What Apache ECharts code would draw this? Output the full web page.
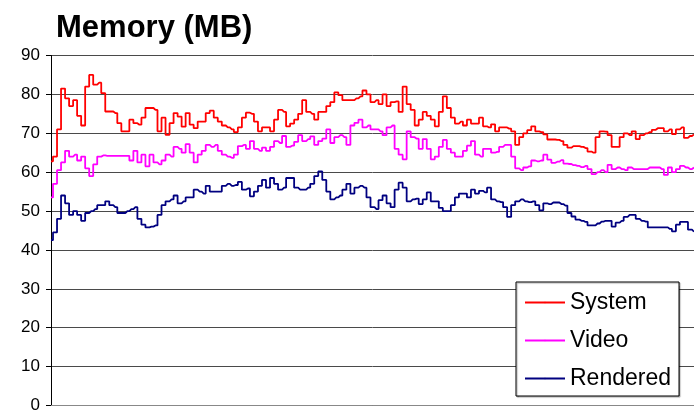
<!DOCTYPE html>
<html>
<head>
<meta charset="utf-8">
<script src="https://cdn.jsdelivr.net/npm/echarts@6/dist/echarts.min.js"></script>
<style>
    html, body { margin: 0; padding: 0; background: #fff; }
    #memChart { width: 694px; height: 414px; }
</style>
</head>
<body>
<div id="memChart"></div>
<script>
// 数据 (MB)
var system = [
    62.8, 64, 71, 81.5, 79, 77, 78.5, 74.5, 72, 82, 85, 82.5, 83, 80.3, 75.6, 75.6, 75.2, 72.6, 70.5, 70.5,
    73.5, 72.6, 72.2, 74, 76.5, 76.5, 76, 70.5, 74, 69.6, 72.6, 75.2, 74.3, 71.7, 75.2, 72.2, 71.3, 73, 73, 75.2,
    75.8, 74, 73, 72, 71.5, 71, 70.3, 71.5, 74, 75.3, 75, 73, 70.5, 71.5, 71.5, 70.5, 73.5, 76, 75.5, 71.8,
    72.5, 73.5, 75, 78.5, 75.5, 75, 73.5, 75.5, 75.5, 77, 78, 80.5, 79.8, 78.5, 78.5, 78.5, 79, 79.5, 81,
    80, 78, 78.5, 77.5, 80, 77, 78, 78.2, 75.5, 82, 77.5, 76, 72, 73.5, 75.5, 74.5, 73.5, 71.8, 75.5, 79.5,
    76.5, 74, 72.5, 73, 72, 73.5, 72.5, 72.5, 74, 71.8, 71.5, 72.3, 70.5, 71.5, 71.5, 71.2, 70.5, 67, 69,
    70, 70.8, 71.8, 70.5, 70.3, 69.7, 68.4, 68.4, 68.3, 68, 67, 66.3, 66.7, 66.7, 66.5, 66.2, 65.3, 65, 69, 70.5,
    70.4, 69.5, 66.5, 66.5, 69, 70, 69.5, 70.5, 68.5, 69.5, 70, 70.3, 70.9, 71.3, 71.3, 70.5, 71, 69.8, 71, 71.5,
    68.8, 69.3, 69.7
];
var video = [
    53.5, 57, 60.5, 62.5, 65.5, 64, 64.5, 63, 64, 61, 59, 62, 64, 64.3, 64.2, 64.2, 64.2, 64.2, 64.2, 64.2,
    63, 65.5, 62.5, 64.5, 61.5, 64.5, 62.5, 62, 63, 64.5, 64, 66.5, 66, 65, 67.2, 65, 62.5, 64.5, 65.5, 67,
    66.5, 67, 65.5, 64.5, 64, 63.7, 64.5, 66.7, 67, 66, 68, 66, 65.5, 66.3, 65.5, 66.5, 68, 67.5, 69.3, 66.5,
    66.8, 67.8, 69.5, 68, 68.5, 69.2, 67, 68, 68.6, 71, 67.5, 69, 69.5, 69, 67, 72, 72.7, 73.5, 71.5,
    72, 71, 71, 70.5, 69.5, 71.5, 72, 66, 64.5, 63.3, 70.5, 69, 68.6, 66, 68.5, 66, 63.3, 64, 66.5, 68.3,
    66, 65, 64, 64, 65.5, 66.8, 68, 64.5, 64, 66, 66, 65, 65.2, 66.5, 67, 67, 64, 61, 60.5,
    61.2, 61.5, 63, 62.8, 63, 64.5, 63.2, 62.4, 62.7, 63.1, 62.2, 62.1, 61.8, 61.6, 61.3, 61.6, 60.8, 59.5, 60, 60.5,
    60, 61.9, 60.8, 61.2, 60.8, 60.5, 61.2, 60.8, 60.8, 60.8, 60.8, 61.2, 61.2, 61.2, 60.8, 59.3, 61.2, 60, 60.8, 61.6,
    61.2, 60.8, 61.2
];
var rendered = [
    42.5, 44.5, 48, 54, 52, 49, 50, 49, 47.5, 49.5, 50, 50.5, 51.5, 51.5, 52.5, 51.5, 51, 49.5, 49.5, 50,
    50.5, 51, 48, 46.5, 45.8, 46, 46.3, 49, 51.5, 52.5, 53, 54, 52, 52.5, 53.5, 53.5, 55.5, 55, 54.5, 56.5,
    55, 55, 55, 56.5, 57, 56.5, 56.7, 57.5, 55.5, 55.8, 53.8, 55, 56.5, 58, 56, 58.5, 57, 55.5, 56, 58.5,
    58.5, 56, 55.5, 55.5, 56, 57, 59, 60.2, 58, 55, 53, 53.5, 54, 55.5, 57, 54.5, 56, 56.5, 56,
    53.5, 51, 50.5, 52.8, 54, 52, 51, 55.5, 57.3, 56, 52.5, 53, 53.2, 51.8, 53, 54.8, 52.5, 52.5, 50.8, 50,
    50, 51.5, 53.5, 54.5, 54.5, 53.5, 55.5, 54.5, 55.2, 54.8, 56, 53, 52.5, 52.3, 51, 48.5, 51.5, 52.5, 53,
    52.5, 52.3, 52.5, 51.5, 50.2, 52, 51.8, 52.2, 52.2, 51.8, 51.4, 49.5, 48.6, 47.8, 47.5, 47.2, 46.3, 46.3, 46.8, 47.3,
    47.5, 47.5, 46, 47, 47.5, 48.5, 49, 49, 48, 47.5, 47.3, 45.8, 45.8, 45.8, 45.8, 45.8, 45.4, 44.8, 46.5, 47.2,
    47.2, 45.2, 44.7
];
var seriesNames = ['System', 'Video', 'Rendered'];
var yTicks = [0, 10, 20, 30, 40, 50, 60, 70, 80, 90];

var samples = [];
for (var i = 0; i < system.length; i++) {
    samples.push(i + 1);
}

var font = '"Liberation Sans", Arial, sans-serif';

var option_mem = {
    animation: false,
    title: {
        text: 'Memory (MB)',
        left: 51,
        top: 8,
        textStyle: { fontFamily: font, fontSize: 31, fontWeight: 'bold', color: '#000' }
    },
    legend: {
        orient: 'vertical',
        left: 516,
        top: 282,
        padding: [9, 8, 6, 8],
        itemWidth: 40,
        itemHeight: 2,
        itemGap: 15,
        itemTextGap: 9,
        backgroundColor: '#fff',
        borderColor: '#000',
        borderWidth: 1,
        shadowColor: 'rgba(0,0,0,0.35)',
        shadowOffsetX: 1,
        shadowOffsetY: 1,
        shadowBlur: 1,
        textStyle: { fontFamily: font, fontSize: 23, color: '#000' },
        data: seriesNames
    },
    grid: {
        left: 51,
        right: 0,
        top: 55.5,
        bottom: 6
    },
    xAxis: [{
        type: 'category',
        boundaryGap: false,
        data: samples,
        axisLine: { show: true, lineStyle: { color: '#888', width: 1 } },
        axisTick: { show: false },
        axisLabel: { show: false },
        splitLine: { show: false }
    }],
    yAxis: [{
        type: 'value',
        min: yTicks[0],
        max: yTicks[yTicks.length - 1],
        interval: 10,
        axisLine: { show: true, lineStyle: { color: '#000', width: 1 } },
        axisTick: { show: true, length: 5, lineStyle: { color: '#000' } },
        axisLabel: { margin: 11, fontFamily: font, fontSize: 17, color: '#000' },
        splitLine: { show: true, lineStyle: { color: '#4a4a4a', width: 1 } }
    }],
    series: [{
        name: seriesNames[0],
        type: 'line',
        step: 'middle',
        symbol: 'none',
        color: '#ff0000',
        lineStyle: { width: 1.8 },
        data: system
    }, {
        name: seriesNames[1],
        type: 'line',
        step: 'middle',
        symbol: 'none',
        color: '#ff00ff',
        lineStyle: { width: 1.8 },
        data: video
    }, {
        name: seriesNames[2],
        type: 'line',
        step: 'middle',
        symbol: 'none',
        color: '#000080',
        lineStyle: { width: 1.8 },
        data: rendered
    }]
};

var chartMem = echarts.init(document.getElementById('memChart'));
chartMem.setOption(option_mem);
</script>
</body>
</html>
